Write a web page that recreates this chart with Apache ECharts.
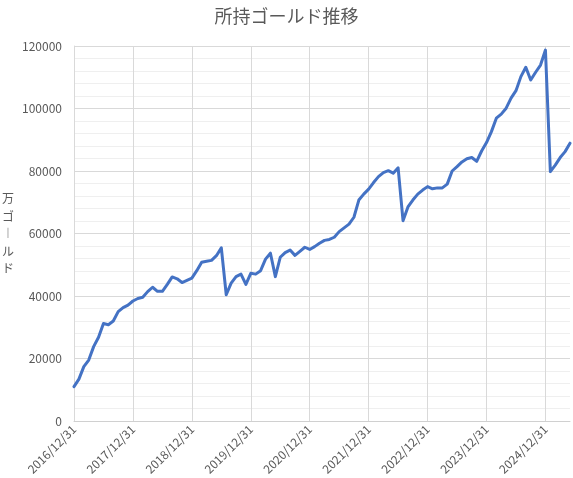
<!DOCTYPE html>
<html>
<head>
<meta charset="utf-8">
<script src="https://cdn.jsdelivr.net/npm/echarts@6/dist/echarts.min.js"></script>
<style>
html,body{margin:0;padding:0;background:#fff;}
#c{width:573px;height:478px;}
</style>
</head>
<body>
<div id="c"></div>
<script>
const titleText = '所持ゴールド推移';
const yAxisName = '万\nゴ\n︱\nル\nド';
const dates = [
  '2016/12/31',
  '2017/1/31','2017/2/28','2017/3/31','2017/4/30','2017/5/31','2017/6/30','2017/7/31','2017/8/31','2017/9/30','2017/10/31','2017/11/30','2017/12/31',
  '2018/1/31','2018/2/28','2018/3/31','2018/4/30','2018/5/31','2018/6/30','2018/7/31','2018/8/31','2018/9/30','2018/10/31','2018/11/30','2018/12/31',
  '2019/1/31','2019/2/28','2019/3/31','2019/4/30','2019/5/31','2019/6/30','2019/7/31','2019/8/31','2019/9/30','2019/10/31','2019/11/30','2019/12/31',
  '2020/1/31','2020/2/29','2020/3/31','2020/4/30','2020/5/31','2020/6/30','2020/7/31','2020/8/31','2020/9/30','2020/10/31','2020/11/30','2020/12/31',
  '2021/1/31','2021/2/28','2021/3/31','2021/4/30','2021/5/31','2021/6/30','2021/7/31','2021/8/31','2021/9/30','2021/10/31','2021/11/30','2021/12/31',
  '2022/1/31','2022/2/28','2022/3/31','2022/4/30','2022/5/31','2022/6/30','2022/7/31','2022/8/31','2022/9/30','2022/10/31','2022/11/30','2022/12/31',
  '2023/1/31','2023/2/28','2023/3/31','2023/4/30','2023/5/31','2023/6/30','2023/7/31','2023/8/31','2023/9/30','2023/10/31','2023/11/30','2023/12/31',
  '2024/1/31','2024/2/29','2024/3/31','2024/4/30','2024/5/31','2024/6/30','2024/7/31','2024/8/31','2024/9/30','2024/10/31','2024/11/30','2024/12/31',
  '2025/1/31','2025/2/28','2025/3/31','2025/4/30','2025/5/31'
];
const gold = [
  11000,
  13400,17400,19500,23800,26800,31200,30800,32000,35000,36300,37100,38400,
  39200,39600,41400,42800,41500,41500,43700,46100,45500,44300,45000,45700,
  48100,50800,51100,51400,52900,55400,40400,44100,46200,47000,43700,47250,
  47000,48100,51800,53700,46200,52400,53900,54700,53000,54300,55600,54900,
  55800,56900,57800,58100,58800,60600,61800,63000,65200,70700,72600,74200,
  76300,78200,79500,80100,79300,81000,64100,68500,70700,72600,73900,75000,
  74300,74600,74600,75800,80000,81400,82900,83900,84300,83100,86400,89100,
  92600,96900,98200,100100,103300,105700,110200,113200,109100,111600,113900,118700,
  79800,81900,84300,86200,88900
];
const yMin = 0, yMax = 120000, yStep = 20000;

function fmtLabel(s){
  const p = s.split('/');
  return p[0] + '/' + (p[1].length < 2 ? '0' + p[1] : p[1]) + '/' + p[2];
}

const chart = echarts.init(document.getElementById('c'), null, {renderer:'canvas'});
const font = '"Noto Sans CJK JP", "Noto Sans", sans-serif';
chart.setOption({
  animation:false,
  backgroundColor:'#fff',
  title:{
    text:titleText, left:'center', top:2,
    textStyle:{fontSize:18, fontWeight:'normal', color:'#595959', fontFamily:font}
  },
  grid:{left:74, right:3, top:46, bottom:57, containLabel:false, outerBoundsMode:'none'},
  xAxis:{
    type:'category', data:dates, boundaryGap:false,
    axisLine:{show:true, lineStyle:{color:'#d0d0d0', width:1}},
    axisTick:{show:false},
    axisLabel:{
      interval:11, rotate:45, fontSize:12, color:'#595959', margin:6,
      fontFamily:font, formatter:fmtLabel
    },
    splitLine:{show:true, interval:11, lineStyle:{color:'#d9d9d9', width:1}}
  },
  yAxis:{
    type:'value', min:yMin, max:yMax, interval:yStep,
    name:yAxisName, nameLocation:'middle', nameRotate:0, nameGap:60,
    nameTextStyle:{fontSize:12, color:'#595959', lineHeight:17.5, fontFamily:font},
    axisLine:{show:true, lineStyle:{color:'#d9d9d9'}},
    axisTick:{show:false},
    axisLabel:{fontSize:12, color:'#595959', margin:12, fontFamily:font, formatter:function(v){return String(v);}},
    splitLine:{show:true, lineStyle:{color:'#d9d9d9', width:1}},
    minorTick:{show:false, splitNumber:5},
    minorSplitLine:{show:true, lineStyle:{color:'#efefef', width:1}}
  },
  series:[{
    type:'line', data:gold, showSymbol:false, symbol:'none',
    lineStyle:{color:'#4472C4', width:3, join:'round', cap:'round'},
    itemStyle:{color:'#4472C4'}
  }]
});
</script>
</body>
</html>
